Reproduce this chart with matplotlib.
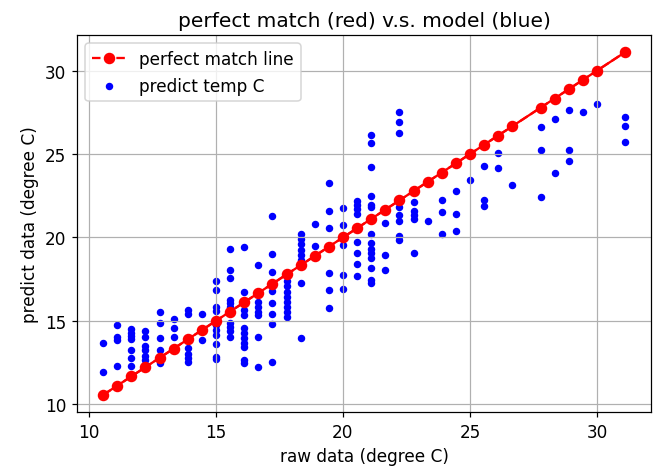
import matplotlib
matplotlib.use("Agg")
import matplotlib.pyplot as plt

# temperatures that appear in the raw data (degree C), also used for the red line
red_x = [10.56, 11.11, 11.67, 12.22, 12.78, 13.33, 13.89, 14.44, 15.0, 15.56,
         16.11, 16.67, 17.22, 17.78, 18.33, 18.89, 19.44, 20.0, 20.56, 21.11,
         21.67, 22.22, 22.78, 23.33, 23.89, 24.44, 25.0, 25.56, 26.11, 26.67,
         27.78, 28.33, 28.89, 29.44, 30.0, 31.11]

# raw temperature -> predicted temperatures
columns = [
    (10.56, [13.7, 11.96]),
    (11.11, [14.76, 14.06, 13.86, 12.3]),
    (11.67, [14.5, 14.3, 14.1, 13.9, 13.26, 12.76, 12.32]),
    (12.22, [14.4, 14.06, 13.5, 13.26, 12.9, 12.66]),
    (12.78, [15.52, 14.86, 14.0, 13.26, 12.76, 12.46]),
    (13.33, [15.14, 14.58, 14.06]),
    (13.89, [15.66, 15.4, 13.36, 13.02, 12.76, 12.56]),
    (14.44, [15.4, 13.86]),
    (15.0, [17.4, 16.86, 15.86, 15.6, 14.76, 14.46, 14.16, 13.62, 12.86, 12.7]),
    (15.56, [19.3, 18.06, 17.56, 16.26, 16.06, 15.86, 14.86, 14.66, 14.4, 14.06]),
    (16.11, [19.4, 16.76, 15.66, 15.36, 14.56, 14.26, 13.96, 13.66, 13.46, 12.66, 12.46]),
    (16.67, [18.36, 16.16, 15.86, 15.56, 15.36, 14.06, 12.26]),
    (17.22, [21.3, 19.0, 17.9, 16.8, 16.1, 15.4, 14.8, 12.56]),
    (17.78, [17.36, 17.06, 16.76, 16.46, 16.16, 15.86, 15.56, 15.26]),
    (18.33, [20.2, 19.92, 19.6, 19.26, 18.96, 18.66, 17.26, 13.96]),
    (18.89, [20.8, 19.46]),
    (19.44, [23.26, 21.6, 20.56, 17.86, 16.86, 15.8]),
    (20.0, [21.76, 20.76, 19.56, 17.76, 16.92]),
    (20.56, [22.2, 21.96, 21.7, 21.4, 19.72, 19.04, 18.38, 17.68]),
    (21.11, [26.12, 25.66, 24.22, 22.46, 21.96, 21.8, 20.22, 19.66, 19.3, 19.06,
             18.78, 18.16, 17.46, 17.26]),
    (21.67, [20.86, 18.94, 18.06]),
    (22.22, [27.5, 26.9, 26.26, 21.82, 21.36, 21.0, 20.06, 19.82]),
    (22.78, [22.12, 21.6, 21.36, 21.12, 19.04]),
    (23.33, [20.98]),
    (23.89, [22.22, 21.5, 20.2]),
    (24.44, [22.78, 21.38, 20.36]),
    (25.0, [23.46]),
    (25.56, [24.3, 22.26, 21.9]),
    (26.11, [25.08, 24.18]),
    (26.67, [23.16]),
    (27.78, [26.6, 25.26, 22.44]),
    (28.33, [27.1, 23.86]),
    (28.89, [27.63, 25.26, 24.6]),
    (29.44, [27.5]),
    (30.0, [28.0]),
    (31.11, [27.2, 26.7, 25.7]),
]

raw_c = [x for x, ys in columns for _ in ys]
pred_c = [y for _, ys in columns for y in ys]

plt.rcParams['font.size'] = 11

fig = plt.figure(figsize=(6.0, 4.274), dpi=110.2)
ax = fig.add_axes([0.1165, 0.123, 0.8685, 0.8006])

# unsorted data in the original makes the dashed line look solid between markers
ax.plot(red_x, red_x, 'r-')
ax.plot(red_x, red_x, 'ro--', markersize=6.5, label='perfect match line')
ax.scatter(raw_c, pred_c, c='b', s=15, label='predict temp C')

ax.set_title('perfect match (red) v.s. model (blue)', fontsize=13.2)
ax.set_xlabel('raw data (degree C)')
ax.set_ylabel('predict data (degree C)')
ax.grid(True)
ax.legend(loc='upper left')

fig.savefig('out.png', dpi=110.2)
